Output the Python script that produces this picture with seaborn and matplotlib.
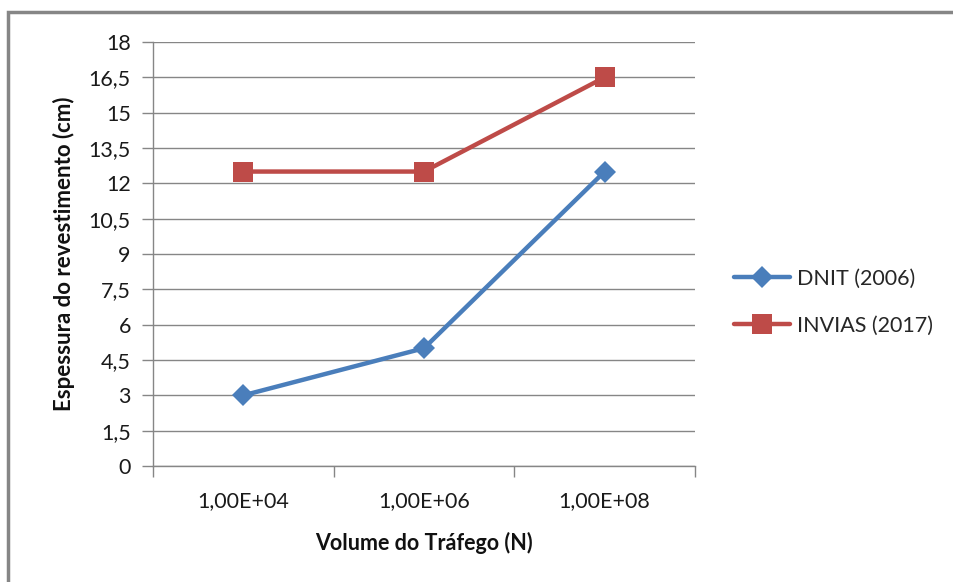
import matplotlib
matplotlib.use("Agg")
import matplotlib.pyplot as plt
import seaborn as sns
import pandas as pd
from matplotlib.patches import Rectangle
from matplotlib.ticker import FixedLocator
from matplotlib.lines import Line2D

categories = ["1,00E+04", "1,00E+06", "1,00E+08"]
dnit = [3, 5, 12.5]
invias = [12.5, 12.5, 16.5]
series_names = ["DNIT (2006)", "INVIAS (2017)"]
y_ticks = [0, 1.5, 3, 4.5, 6, 7.5, 9, 10.5, 12, 13.5, 15, 16.5, 18]

sns.set_theme(style="white")
plt.rcParams["font.family"] = ["Lato", "DejaVu Sans"]

df = pd.DataFrame({
    "pos": list(range(len(categories))) * 2,
    "value": dnit + invias,
    "series": [series_names[0]] * 3 + [series_names[1]] * 3,
})

fig = plt.figure(figsize=(9.54, 5.82), dpi=100)
ax = fig.add_axes([153 / 954, 1 - 466 / 582, 542 / 954, 424 / 582])

palette = {series_names[0]: "#4A7EBB", series_names[1]: "#BE4B48"}
markers = {series_names[0]: "D", series_names[1]: "s"}
msize = {series_names[0]: 11, series_names[1]: 14}
sns.lineplot(data=df, x="pos", y="value", hue="series", style="series",
             palette=palette, markers=markers, dashes=False, linewidth=3.2,
             markersize=11, markeredgewidth=0, ax=ax, legend=False, zorder=3)
for line in ax.get_lines():
    if line.get_marker() == "s":
        line.set_markersize(14)

ax.set_xlim(-0.5, 2.5)
ax.set_ylim(0, 18)
ax.set_yticks(y_ticks)
ax.set_yticklabels([("%g" % v).replace(".", ",") for v in y_ticks])
ax.set_xticks(range(len(categories)))
ax.set_xticklabels(categories)
ax.xaxis.set_minor_locator(FixedLocator([-0.5, 0.5, 1.5, 2.5]))
ax.tick_params(axis="x", which="major", length=0, pad=18, labelsize=15.5, labelcolor="#1a1a1a")
ax.tick_params(axis="x", which="minor", length=8, width=1, color="#868686", direction="out", bottom=True)
ax.tick_params(axis="y", which="major", length=8, width=1, color="#868686", direction="out",
               left=True, pad=8, labelsize=15.5, labelcolor="#1a1a1a")

ax.grid(axis="y", color="#868686", linewidth=1)
ax.grid(axis="x", visible=False)
for s in ["top", "right"]:
    ax.spines[s].set_visible(False)
for s in ["left", "bottom"]:
    ax.spines[s].set_color("#868686")
    ax.spines[s].set_linewidth(1)

ax.set_xlabel("Volume do Tráfego (N)", fontsize=15.5, fontweight="bold", labelpad=15, color="#111111")
ax.set_ylabel("Espessura do revestimento (cm)", fontsize=16, fontweight="bold", labelpad=10, color="#111111")

handles = [Line2D([], [], color=palette[n], marker=markers[n], linewidth=3.2,
                  markersize=msize[n], markeredgewidth=0) for n in series_names]
fig.legend(handles, series_names, loc="center left", bbox_to_anchor=(715 / 954, 1 - 302 / 582),
           frameon=False, fontsize=15.5, handlelength=2.6, labelspacing=1.25, handletextpad=0.3)

fig.patches.append(Rectangle((8 / 954, -0.1), 1.2, 1 - 12 / 582 + 0.1, transform=fig.transFigure,
                             fill=False, edgecolor="#868686", linewidth=2.5))

fig.savefig("out.png", dpi=100)
